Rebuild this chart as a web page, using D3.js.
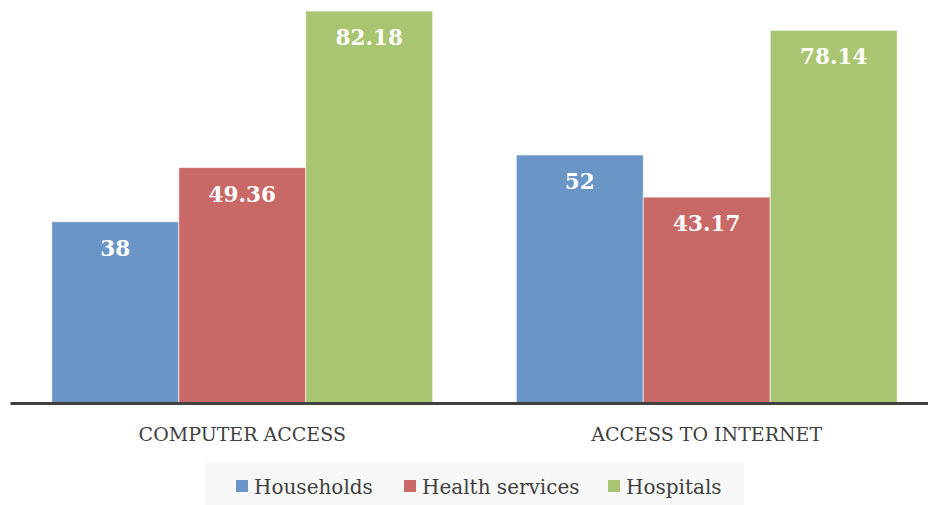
<!DOCTYPE html>
<html>
<head>
<meta charset="utf-8">
<script src="https://cdn.jsdelivr.net/npm/d3@7"></script>
<style>
  html, body { margin: 0; padding: 0; background: #fff; }
  svg { display: block; }
</style>
</head>
<body>
<div id="chart"></div>
<script>
// Data
const categories = ["COMPUTER ACCESS", "ACCESS TO INTERNET"]
const seriesNames = ["Households", "Health services", "Hospitals"]
const households = [38, 52]
const healthServices = [49.36, 43.17]
const hospitals = [82.18, 78.14]
const valueLabels = [["38", "52"], ["49.36", "43.17"], ["82.18", "78.14"]]

// Config
const W = 928, H = 505
const baseY = 403
const colors = ["#6A95C7", "#C96967", "#AAC571"]
const FONT = "'DejaVu Serif', serif"

const seriesValues = [households, healthServices, hospitals]
const rows = categories.map((c, i) => ({
  cat: c,
  vals: seriesNames.map((s, j) => ({ s, j, v: seriesValues[j][i], label: valueLabels[j][i] }))
}))

const svg = d3.select("#chart").append("svg").attr("width", W).attr("height", H)

const x0 = d3.scaleBand().domain(categories).range([10, 939]).paddingInner(0.18).paddingOuter(0.09)
const x1 = d3.scaleBand().domain(seriesNames).range([0, x0.bandwidth()]).padding(0)
const y = d3.scaleLinear().domain([0, 84.5]).range([baseY, 0])

// bars
const groups = svg.selectAll("g.grp").data(rows).join("g")
  .attr("class", "grp")
  .attr("transform", d => `translate(${x0(d.cat)},0)`)

groups.selectAll("rect").data(d => d.vals).join("rect")
  .attr("x", d => x1(d.s))
  .attr("y", d => y(d.v))
  .attr("width", x1.bandwidth())
  .attr("height", d => baseY - y(d.v))
  .attr("fill", d => colors[d.j])
  .attr("stroke", "#ffffff")
  .attr("stroke-opacity", 0.6)
  .attr("stroke-width", 1)

groups.selectAll("text.val").data(d => d.vals).join("text")
  .attr("class", "val")
  .attr("x", d => x1(d.s) + x1.bandwidth() / 2)
  .attr("y", d => y(d.v) + 34)
  .attr("text-anchor", "middle")
  .attr("fill", "#ffffff")
  .style("font-family", FONT)
  .style("font-weight", "bold")
  .style("font-size", "21.5px")
  .text(d => d.label)

// axis
const xAxis = svg.append("g")
  .attr("transform", `translate(0,${baseY})`)
  .call(d3.axisBottom(x0).tickSize(0).tickPadding(0))
xAxis.select(".domain").attr("stroke", "#404040").attr("stroke-width", 3)
xAxis.selectAll("text")
  .attr("dy", 0)
  .attr("y", 38)
  .attr("fill", "#404040")
  .style("font-family", FONT)
  .style("font-size", "19px")

// legend
svg.append("rect")
  .attr("x", 205).attr("y", 463).attr("width", 539).attr("height", 50)
  .attr("fill", "#F8F8F8")
const legend = svg.append("g")
const legendX = [236, 404, 608]
seriesNames.forEach((s, j) => {
  legend.append("rect")
    .attr("x", legendX[j]).attr("y", 480).attr("width", 12).attr("height", 12)
    .attr("fill", colors[j])
  legend.append("text")
    .attr("x", legendX[j] + 18).attr("y", 494)
    .attr("fill", "#404040")
    .style("font-family", FONT)
    .style("font-size", "20px")
    .text(s)
})
</script>
</body>
</html>
